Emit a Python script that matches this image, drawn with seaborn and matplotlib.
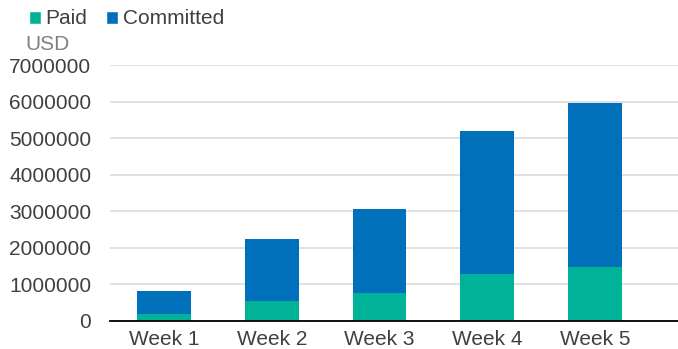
import matplotlib
matplotlib.use("Agg")
import matplotlib.pyplot as plt
from matplotlib.patches import Patch
import seaborn as sns
import pandas as pd

weeks = ["Week 1", "Week 2", "Week 3", "Week 4", "Week 5"]
paid = [200000, 540000, 757000, 1280000, 1467000]
committed = [630000, 1700000, 2313000, 3920000, 4483000]
y_ticks = [0, 1000000, 2000000, 3000000, 4000000, 5000000, 6000000, 7000000]

GREEN = "#00B398"
BLUE = "#0070BA"
TEXT = "#404040"

sns.set_theme(style="white")
plt.rcParams["font.family"] = ["Liberation Sans", "DejaVu Sans"]

df = pd.DataFrame({"week": weeks, "paid": paid, "committed": committed})
df["total"] = df["paid"] + df["committed"]

fig = plt.figure(figsize=(6.78, 3.49), dpi=100)
ax = fig.add_axes([110 / 678, 1 - 321 / 349, (678 - 110) / 678, (321 - 65) / 349])

# stacked bars: full height in blue, paid portion drawn over it in green
sns.barplot(data=df, x="week", y="total", color=BLUE, width=0.5, ax=ax,
            saturation=1, linewidth=0)
sns.barplot(data=df, x="week", y="paid", color=GREEN, width=0.5, ax=ax,
            saturation=1, linewidth=0)

ax.set_ylim(0, 7000000)
ax.set_yticks(y_ticks)
ax.set_yticklabels([str(v) for v in y_ticks])
ax.set_xlim(-0.5, -0.5 + (678 - 110) / 107.8)
ax.set_xlabel("")
ax.set_ylabel("")
ax.yaxis.grid(True, color="#d9d9d9", linewidth=1.1)
ax.set_axisbelow(True)
for side in ["left", "right", "top"]:
    ax.spines[side].set_visible(False)
ax.spines["bottom"].set_color("#000000")
ax.spines["bottom"].set_linewidth(1.3)
ax.tick_params(axis="both", length=0, labelsize=15, colors=TEXT)
ax.tick_params(axis="x", pad=6.5)
ax.tick_params(axis="y", pad=13.5)

fig.text(25 / 678, 1 - 44 / 349, "USD", fontsize=15, color="#808080",
         va="center", ha="left")

handles = [Patch(facecolor=GREEN, label="Paid"), Patch(facecolor=BLUE, label="Committed")]
fig.legend(handles=handles, loc="center left", bbox_to_anchor=(29 / 678, 1 - 19 / 349),
           ncol=2, frameon=False, fontsize=15, handlelength=0.58, handleheight=0.58,
           handletextpad=0.22, columnspacing=0.9, labelcolor=TEXT, borderaxespad=0,
           borderpad=0)

fig.savefig("out.png", dpi=100)
